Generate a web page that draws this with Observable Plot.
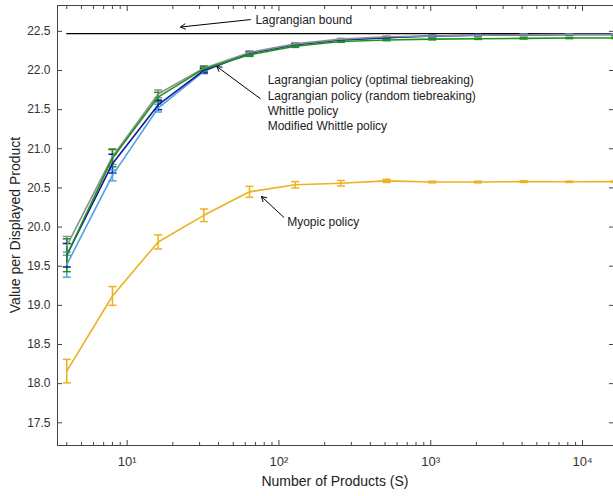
<!DOCTYPE html>
<html><head><meta charset="utf-8">
<script src="https://cdn.jsdelivr.net/npm/d3@7"></script>
<script src="https://cdn.jsdelivr.net/npm/@observablehq/plot@0.6"></script>
<style>body{margin:0;background:#fff}</style>
</head><body><div id="chart"></div>
<script>
// ---- data ----
const products = [4, 8, 16, 32, 64, 128, 256, 512, 1024, 2048, 4096, 8192, 16384];
const policies = [
  "Whittle policy",
  "Lagrangian policy (random tiebreaking)",
  "Lagrangian policy (optimal tiebreaking)",
  "Modified Whittle policy",
  "Myopic policy"
];
const whittle      = [19.52, 20.66, 21.52, 21.99, 22.22, 22.33, 22.39, 22.42, 22.44, 22.45, 22.455, 22.46, 22.46];
const whittleErr   = [0.16, 0.07, 0.05, 0.03, 0.02, 0.015, 0.01, 0.01, 0.01, 0.008, 0.008, 0.008, 0.008];
const lagRandom    = [19.64, 20.81, 21.56, 22.00, 22.22, 22.33, 22.39, 22.42, 22.44, 22.45, 22.455, 22.46, 22.46];
const lagRandomErr = [0.15, 0.12, 0.06, 0.03, 0.02, 0.015, 0.01, 0.01, 0.01, 0.008, 0.008, 0.008, 0.008];
const lagOptimal   = [19.76, 20.90, 21.70, 22.03, 22.23, 22.34, 22.40, 22.43, 22.44, 22.45, 22.455, 22.46, 22.46];
const lagOptimalErr= [0.12, 0.10, 0.05, 0.03, 0.02, 0.015, 0.01, 0.01, 0.01, 0.008, 0.008, 0.008, 0.008];
const modWhittle   = [19.64, 20.88, 21.66, 22.02, 22.20, 22.31, 22.37, 22.39, 22.40, 22.405, 22.41, 22.415, 22.415];
const modWhittleErr= [0.21, 0.11, 0.06, 0.03, 0.02, 0.015, 0.01, 0.01, 0.01, 0.008, 0.008, 0.008, 0.008];
const myopic       = [18.16, 19.12, 19.81, 20.15, 20.45, 20.54, 20.56, 20.59, 20.575, 20.575, 20.58, 20.578, 20.58];
const myopicErr    = [0.15, 0.12, 0.09, 0.08, 0.07, 0.04, 0.035, 0.02, 0.01, 0.01, 0.01, 0.008, 0.008];
const lagrangianBound = 22.47;
const yTicks = [17.5, 18.0, 18.5, 19.0, 19.5, 20.0, 20.5, 21.0, 21.5, 22.0, 22.5];
const xMajorTicks = [10, 100, 1000, 10000];
const xTickLabels = ["10\u00B9", "10\u00B2", "10\u00B3", "10\u2074"];
const xMinorTicks = [4,5,6,7,8,9, 20,30,40,50,60,70,80,90, 200,300,400,500,600,700,800,900, 2000,3000,4000,5000,6000,7000,8000,9000];
const labelTexts = [
  "Lagrangian bound",
  "Lagrangian policy (optimal tiebreaking)",
  "Lagrangian policy (random tiebreaking)",
  "Whittle policy",
  "Modified Whittle policy",
  "Myopic policy"
];
const labelX = [70, 84.3, 84.3, 84.3, 84.3, 113.3];
const labelY = [22.64, 21.873, 21.673, 21.481, 21.285, 20.06];
const arrowFromX = [64.9, 75.4, 107.6];
const arrowFromY = [22.65, 21.64, 20.125];
const arrowToX   = [22.5, 39.0, 76.7];
const arrowToY   = [22.555, 22.05, 20.39];

// ---- build tables ----
const valuesList = [whittle, lagRandom, lagOptimal, modWhittle, myopic];
const errList = [whittleErr, lagRandomErr, lagOptimalErr, modWhittleErr, myopicErr];
const rows = [];
policies.forEach((p, i) => products.forEach((s, j) => rows.push({policy: p, S: s, value: valuesList[i][j], err: errList[i][j]})));
const boundRows = [{S: products[0], value: lagrangianBound}, {S: products[products.length - 1], value: lagrangianBound}];
const labels = labelTexts.map((t, i) => ({text: t, x: labelX[i], y: labelY[i]}));
const arrows = arrowFromX.map((x, i) => ({x1: x, y1: arrowFromY[i], x2: arrowToX[i], y2: arrowToY[i]}));

const colors = ["#4da3e0", "#1515a0", "#8f8f8f", "#18961a", "#edb120"];
const capFactor = 1.063;
const font = "'Liberation Sans', Arial, Helvetica, sans-serif";
const axisColor = "#444";

const chart = Plot.plot({
  width: 613,
  height: 496,
  marginLeft: 57,
  marginRight: 0,
  marginTop: 5,
  marginBottom: 51,
  style: {fontFamily: font, fontSize: "12px", color: "#333", background: "#fff"},
  x: {type: "log", domain: [3.476, 16000]},
  y: {domain: [17.21, 22.83]},
  color: {domain: policies, range: colors},
  marks: [
    Plot.frame({stroke: axisColor}),
    // tick labels
    Plot.axisY({ticks: yTicks, tickSize: 0, tickPadding: 7, tickFormat: d => d.toFixed(1), label: null, fontSize: 12, fill: "#333"}),
    Plot.axisX({ticks: xMajorTicks, tickSize: 0, tickPadding: 11, tickFormat: d => xTickLabels[xMajorTicks.indexOf(d)], label: null, fontSize: 13, fill: "#333"}),
    // inward ticks
    Plot.axisY({anchor: "left", ticks: yTicks, tickSize: -5, tickFormat: () => "", label: null, stroke: axisColor}),
    Plot.axisY({anchor: "right", ticks: yTicks, tickSize: -5, tickFormat: () => "", label: null, stroke: axisColor}),
    Plot.axisX({anchor: "bottom", ticks: xMajorTicks, tickSize: -5, tickFormat: () => "", label: null, stroke: axisColor}),
    Plot.axisX({anchor: "bottom", ticks: xMinorTicks, tickSize: -3, tickFormat: () => "", label: null, stroke: axisColor}),
    Plot.axisX({anchor: "top", ticks: xMajorTicks, tickSize: -5, tickFormat: () => "", label: null, stroke: axisColor}),
    Plot.axisX({anchor: "top", ticks: xMinorTicks, tickSize: -3, tickFormat: () => "", label: null, stroke: axisColor}),
    // bound
    Plot.line(boundRows, {x: "S", y: "value", stroke: "black", strokeWidth: 1.3, clip: true}),
    // series
    Plot.ruleX(rows, {x: "S", y1: d => d.value - d.err, y2: d => d.value + d.err, stroke: "policy", strokeWidth: 1.5, clip: true}),
    Plot.link(rows, {x1: d => d.S / capFactor, x2: d => d.S * capFactor, y1: d => d.value + d.err, y2: d => d.value + d.err, stroke: "policy", strokeWidth: 1.5, clip: true}),
    Plot.link(rows, {x1: d => d.S / capFactor, x2: d => d.S * capFactor, y1: d => d.value - d.err, y2: d => d.value - d.err, stroke: "policy", strokeWidth: 1.5, clip: true}),
    Plot.line(rows, {x: "S", y: "value", z: "policy", stroke: "policy", strokeWidth: 1.6, clip: true}),
    // annotations
    Plot.arrow(arrows, {x1: "x1", y1: "y1", x2: "x2", y2: "y2", stroke: "black", strokeWidth: 1, headLength: 8, bend: 0}),
    Plot.text(labels, {x: "x", y: "y", text: "text", textAnchor: "start", fontSize: 12, fill: "#222"})
  ]
});

const wrap = document.createElement("div");
wrap.style.position = "relative";
wrap.style.width = "613px";
wrap.style.height = "496px";
wrap.appendChild(chart);
const xl = document.createElement("div");
xl.textContent = "Number of Products (S)";
xl.style.cssText = `position:absolute;left:57px;width:556px;top:473px;text-align:center;font:14px ${font};color:#222;`;
const yl = document.createElement("div");
yl.textContent = "Value per Displayed Product";
yl.style.cssText = `position:absolute;left:15px;top:225px;transform:translate(-50%,-50%) rotate(-90deg);white-space:nowrap;font:14px ${font};color:#222;`;
wrap.appendChild(xl);
wrap.appendChild(yl);
document.getElementById("chart").appendChild(wrap);
</script>
</body></html>
